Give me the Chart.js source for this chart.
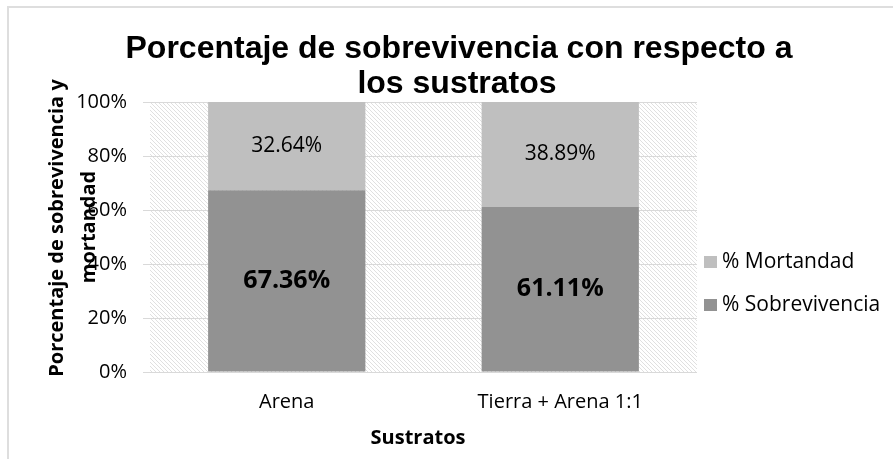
<!DOCTYPE html>
<html>
  <head>
    <meta http-equiv="content-type" content="text/html; charset=utf-8" />
    <title>Porcentaje de sobrevivencia</title>
    <style>
      html, body { margin: 0; padding: 0; background: #fff; }
    </style>
  </head>
  <body>
    <canvas id="chart" width="893" height="459"></canvas>
    <script src="https://cdn.jsdelivr.net/npm/chart.js@4/dist/chart.umd.min.js"></script>
    <script>
      const categories = ["Arena", "Tierra + Arena 1:1"];
      const sobrevivencia = [67.36, 61.11];
      const mortandad = [32.64, 38.89];
      const yTicks = [0, 20, 40, 60, 80, 100];

      const titleLines = ["Porcentaje de sobrevivencia con respecto a", "los sustratos"];
      const yTitleLines = ["Porcentaje de sobrevivencia y", "mortandad"];
      const xTitle = "Sustratos";

      const BODY = "'Open Sans', sans-serif";

      // hatched background of the plot area
      function hatchPattern(ctx) {
        const c = document.createElement("canvas");
        c.width = 4; c.height = 4;
        const g = c.getContext("2d");
        g.fillStyle = "#fff";
        g.fillRect(0, 0, 4, 4);
        g.strokeStyle = "#e0e0e0";
        g.lineWidth = 1;
        g.beginPath();
        g.moveTo(-1, -1); g.lineTo(5, 5);
        g.moveTo(-1, 3); g.lineTo(1, 5);
        g.moveTo(3, -1); g.lineTo(5, 1);
        g.stroke();
        return ctx.createPattern(c, "repeat");
      }

      const decor = {
        id: "decor",
        beforeDraw(chart) {
          const { ctx, chartArea: a } = chart;
          ctx.save();
          ctx.fillStyle = hatchPattern(ctx);
          ctx.fillRect(a.left, a.top, a.right - a.left, a.bottom - a.top);
          // chart border (top and left only visible)
          ctx.strokeStyle = "#dedede";
          ctx.lineWidth = 2;
          ctx.beginPath();
          ctx.moveTo(8, 459); ctx.lineTo(8, 7); ctx.lineTo(893, 7);
          ctx.stroke();
          ctx.restore();
        },
        afterDraw(chart) {
          const { ctx, chartArea: a } = chart;
          ctx.save();
          ctx.fillStyle = "#000";
          ctx.textAlign = "center";
          ctx.textBaseline = "alphabetic";
          // title
          ctx.font = "bold 32px 'Liberation Sans', Arial, sans-serif";
          ctx.fillText(titleLines[0], 459, 58);
          ctx.fillText(titleLines[1], 457, 93);
          // x title
          ctx.font = "bold 20px " + BODY;
          ctx.textBaseline = "middle";
          ctx.fillText(xTitle, 418, 438);
          // y title (rotated, second line overlaps tick labels as in source)
          ctx.save();
          ctx.translate(57, 228);
          ctx.rotate(-Math.PI / 2);
          ctx.fillText(yTitleLines[0], 0, 0);
          ctx.restore();
          ctx.save();
          ctx.translate(89, 227);
          ctx.rotate(-Math.PI / 2);
          ctx.fillText(yTitleLines[1], 0, 0);
          ctx.restore();

          // data labels
          chart.data.datasets.forEach((ds, di) => {
            const meta = chart.getDatasetMeta(di);
            meta.data.forEach((bar, i) => {
              const cy = (bar.y + bar.base) / 2;
              ctx.font = di === 0 ? "bold 25px " + BODY : "21px " + BODY;
              ctx.fillText(ds.data[i].toFixed(2) + "%", bar.x, cy);
            });
          });

          // legend
          const items = [
            { label: chart.data.datasets[1].label, color: chart.data.datasets[1].backgroundColor, y: 262 },
            { label: chart.data.datasets[0].label, color: chart.data.datasets[0].backgroundColor, y: 305 }
          ];
          ctx.textAlign = "left";
          ctx.font = "21px " + BODY;
          items.forEach((it) => {
            ctx.fillStyle = it.color;
            ctx.fillRect(704, it.y - 6, 13, 12);
            ctx.fillStyle = "#000";
            ctx.fillText(it.label, 722, it.y);
          });
          ctx.restore();
        }
      };

      new Chart(document.getElementById("chart"), {
        type: "bar",
        data: {
          labels: categories,
          datasets: [
            { label: "% Sobrevivencia", data: sobrevivencia, backgroundColor: "#929292" },
            { label: "% Mortandad", data: mortandad, backgroundColor: "#bfbfbf" }
          ]
        },
        options: {
          responsive: false,
          animation: false,
          devicePixelRatio: 1,
          layout: { padding: { left: 0, top: 102, right: 196, bottom: 0 } },
          datasets: { bar: { categoryPercentage: 1, barPercentage: 0.575 } },
          plugins: { legend: { display: false }, title: { display: false }, tooltip: { enabled: false } },
          scales: {
            x: {
              stacked: true,
              grid: { display: false, drawTicks: false },
              border: { display: false },
              ticks: { color: "#000", font: { family: BODY, size: 20 }, padding: 18 },
              afterFit(s) { s.height = 87; }
            },
            y: {
              stacked: true,
              min: 0,
              max: 100,
              afterBuildTicks(s) { s.ticks = yTicks.map((v) => ({ value: v })); },
              grid: { color: "#d9d9d9", lineWidth: 1, tickLength: 7 },
              border: { display: false },
              ticks: {
                color: "#000",
                font: { family: BODY, size: 20 },
                padding: 16,
                callback: (v) => v + "%"
              },
              afterFit(s) { s.width = 150; }
            }
          }
        },
        plugins: [decor]
      });
    </script>
  </body>
</html>
